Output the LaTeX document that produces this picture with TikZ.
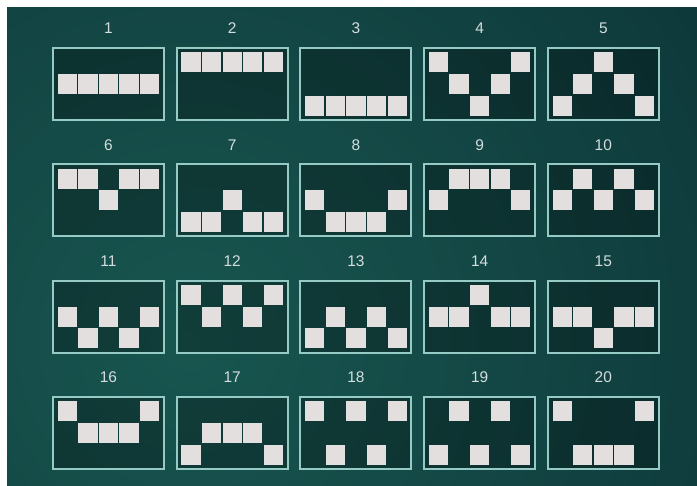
\documentclass[tikz,border=0pt]{standalone}
\usepackage{fontspec}
\setmainfont{Liberation Sans}
\usepackage{xcolor}
\definecolor{boardin}{RGB}{24,86,80}
\definecolor{boardout}{RGB}{5,30,38}
\definecolor{framec}{RGB}{150,202,196}
\definecolor{cellc}{RGB}{228,223,223}
\definecolor{digitc}{RGB}{212,222,222}
\usepackage{tikz}
\usetikzlibrary{
    positioning,
    calc
}

\begin{document}
\begin{tikzpicture}[
        x=0.025cm, y=-0.025cm,
        panel/.style={rectangle, draw=framec, line width=1.4pt, fill=black, fill opacity=0.28, draw opacity=1, minimum width=2.775cm, minimum height=1.8cm, inner sep=0pt},
        cell/.style={rectangle, fill=cellc, minimum width=0.48cm, minimum height=0.5cm, inner sep=0pt},
        lbl/.style={text=digitc, inner sep=0pt, font=\fontsize{11}{12}\selectfont}
    ]
        % board
        \useasboundingbox[fill=white] (0,0) rectangle (697,486);
        \begin{scope}
            \clip (7,8) rectangle (697,486);
            \fill[inner color=boardin, outer color=boardout] (190,340) circle (1150);
        \end{scope}

        % paylines: row of the cell in each reel (1 top, 2 middle, 3 bottom)
        \foreach \line [count=\n from 0] in {
            {2,2,2,2,2},{1,1,1,1,1},{3,3,3,3,3},{1,2,3,2,1},{3,2,1,2,3},
            {1,1,2,1,1},{3,3,2,3,3},{2,3,3,3,2},{2,1,1,1,2},{2,1,2,1,2},
            {2,3,2,3,2},{1,2,1,2,1},{3,2,3,2,3},{2,2,1,2,2},{2,2,3,2,2},
            {1,2,2,2,1},{3,2,2,2,3},{1,3,1,3,1},{3,1,3,1,3},{1,3,3,3,1}} {
            \pgfmathtruncatemacro{\col}{mod(\n,5)}
            \pgfmathtruncatemacro{\row}{div(\n,5)}
            \pgfmathtruncatemacro{\num}{\n+1}
            \node[panel] (p\num) at ({108.5+123.7*\col},{84+116.3*\row}) {};
            \node[lbl, above=0.32cm of p\num] (l\num) {\num};
            \foreach \r [count=\c] in \line {
                \node[cell] (s\num-\c) at ($(p\num)+({20.6*(\c-3)},{21.7*(\r-2)})$) {};
            }
        }
    \end{tikzpicture}
\end{document}
